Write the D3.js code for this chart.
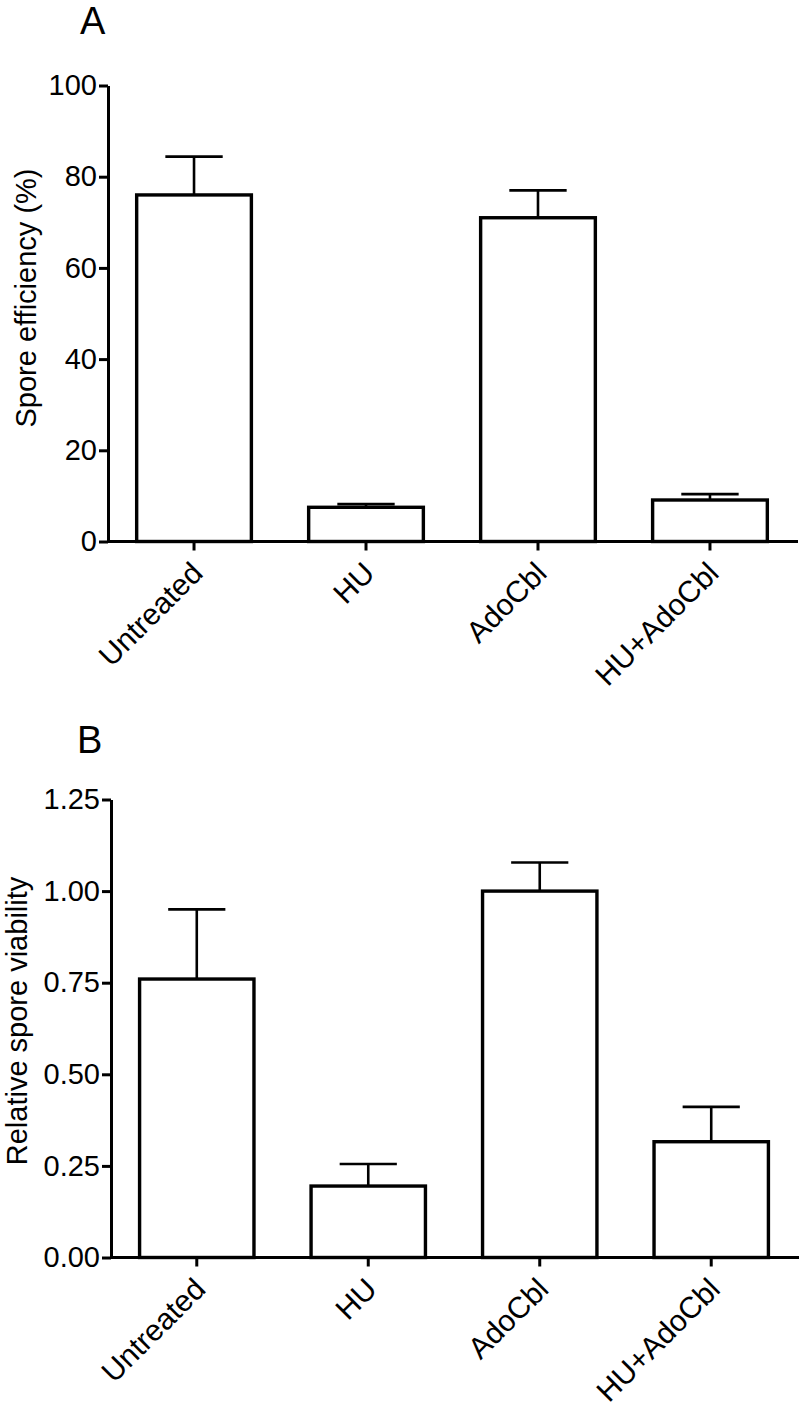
<!DOCTYPE html>
<html>
<head>
<meta charset="utf-8">
<script src="https://cdn.jsdelivr.net/npm/d3@7"></script>
<style>
	body { margin: 0; background: #fff; }
	svg { display: block; font-family: "Liberation Sans", Arial, Helvetica, sans-serif; }
</style>
</head>
<body>
<div id="chart"></div>
<script>
const categories = ["Untreated", "HU", "AdoCbl", "HU+AdoCbl"]

//panel A - spore efficiency (%)
const efficiencyMean = [76, 7.5, 71, 9.1]
const efficiencyErr = [8.4, 0.7, 6, 1.3]
const efficiencyTicks = [0, 20, 40, 60, 80, 100]

//panel B - relative spore viability
const viabilityMean = [0.76, 0.195, 1.0, 0.316]
const viabilityErr = [0.19, 0.06, 0.078, 0.095]
const viabilityTicks = [0, 0.25, 0.5, 0.75, 1.0, 1.25]

const w = 800, h = 1407

let svg = d3.select('#chart').append('svg')
	.attr('width', w)
	.attr('height', h)

function drawPanel(opts){
	let g = svg.append('g')

	let x = d3.scaleBand()
		.domain(categories)
		.range(opts.xRange)
		.paddingInner(0.333)
		.paddingOuter(0.1667)

	let y = d3.scaleLinear()
		.domain(opts.yDomain)
		.range(opts.yRange)

	let rows = categories.map((c, i) => ({cat: c, mean: opts.mean[i], err: opts.err[i]}))

	//bars
	g.selectAll('.bar')
		.data(rows)
		.join('rect')
		.attr('class', 'bar')
		.attr('x', d => x(d.cat))
		.attr('y', d => y(d.mean))
		.attr('width', x.bandwidth())
		.attr('height', d => y(0) - y(d.mean))
		.attr('fill', '#fff')
		.attr('stroke', '#000')
		.attr('stroke-width', 3.4)

	//error bars (upper only)
	let cx = d => x(d.cat) + x.bandwidth() / 2
	let capHalf = x.bandwidth() / 4
	g.selectAll('.errLine')
		.data(rows)
		.join('line')
		.attr('x1', cx).attr('x2', cx)
		.attr('y1', d => y(d.mean))
		.attr('y2', d => y(d.mean + d.err))
		.attr('stroke', '#000')
		.attr('stroke-width', 2.6)
	g.selectAll('.errCap')
		.data(rows)
		.join('line')
		.attr('x1', d => cx(d) - capHalf)
		.attr('x2', d => cx(d) + capHalf)
		.attr('y1', d => y(d.mean + d.err))
		.attr('y2', d => y(d.mean + d.err))
		.attr('stroke', '#000')
		.attr('stroke-width', 2.6)

	//y axis
	let yAxis = g.append('g')
		.attr('transform', `translate(${opts.xRange[0]},0)`)
		.call(d3.axisLeft(y).tickValues(opts.ticks).tickFormat(opts.fmt).tickSize(9).tickSizeOuter(0).tickPadding(2))
	yAxis.selectAll('text').attr('font-size', 29).attr('fill', '#000').attr('font-family', null)

	//x axis
	let xAxis = g.append('g')
		.attr('transform', `translate(0,${y(0)})`)
		.call(d3.axisBottom(x).tickSize(9).tickSizeOuter(0))
	xAxis.select('.domain').attr('d', `M${opts.xRange[0]},0H${opts.xRange[1] + 2}`)
	xAxis.selectAll('.tick text')
		.attr('font-size', 30)
		.attr('font-family', null)
		.attr('fill', '#000')
		.attr('text-anchor', 'end')
		.attr('y', 0)
		.attr('dy', '0.35em')
		.attr('transform', 'translate(3,26) rotate(-45)')

	svg.selectAll('.domain, .tick line').attr('stroke', '#000').attr('stroke-width', 3)

	//axis title
	g.append('text')
		.attr('transform', `translate(${opts.titleX},${opts.titleY}) rotate(-90)`)
		.attr('text-anchor', 'middle')
		.attr('font-size', opts.titleSize)
		.text(opts.title)

	//panel letter
	g.append('text')
		.attr('x', opts.letterX)
		.attr('y', opts.letterY)
		.attr('font-size', 38)
		.text(opts.letter)
}

drawPanel({
	mean: efficiencyMean, err: efficiencyErr, ticks: efficiencyTicks,
	fmt: d3.format('d'),
	xRange: [108, 796], yDomain: [0, 100], yRange: [541.5, 85.5],
	title: 'Spore efficiency (%)', titleX: 36, titleY: 298, titleSize: 29,
	letter: 'A', letterX: 80, letterY: 34
})

drawPanel({
	mean: viabilityMean, err: viabilityErr, ticks: viabilityTicks,
	fmt: d3.format('.2f'),
	xRange: [111, 797], yDomain: [0, 1.25], yRange: [1257.5, 799.5],
	title: 'Relative spore viability', titleX: 27, titleY: 1021, titleSize: 29,
	letter: 'B', letterX: 77, letterY: 753
})
</script>
</body>
</html>
